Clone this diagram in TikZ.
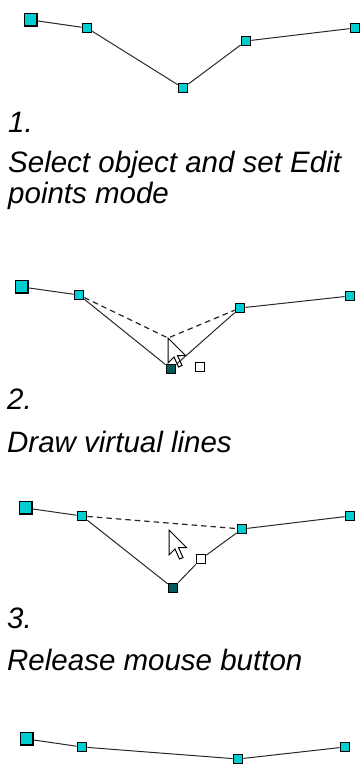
\documentclass[tikz,border=0pt]{standalone}
\usepackage{fontspec}
\setmainfont{Liberation Sans}
\usetikzlibrary{positioning}
\definecolor{handleCyan}{RGB}{0,206,209}
\definecolor{handleDark}{RGB}{0,92,92}
\definecolor{lineGray}{RGB}{40,40,40}

\begin{document}
\begin{tikzpicture}[
    x=1pt, y=-1pt,
    font=\fontsize{29.5}{31}\selectfont\itshape,
    handle/.style={draw=black, line width=1.3pt, fill=handleCyan, inner sep=0pt, minimum size=9.5pt,
      path picture={\draw[black, line width=2pt] (path picture bounding box.south west)
        -- (path picture bounding box.south east) -- (path picture bounding box.north east);}},
    starthandle/.style={handle, minimum size=12.5pt},
    selhandle/.style={handle, fill=handleDark},
    hollow/.style={draw=black, line width=1.1pt, fill=white, inner sep=0pt, minimum size=9.5pt},
    segment/.style={draw=lineGray, line width=1pt},
    virtual/.style={segment, draw=black!85, line width=1.2pt, dash pattern=on 5.5pt off 4pt},
    caption/.style={anchor=base west, inner sep=0pt},
    mousearrow/.pic={\draw[fill=white, line width=1pt, line join=miter]
      (0,0) -- (0,25) -- (6,19) -- (10.5,29) -- (14,27.5) -- (9.5,17.5) -- (17.5,17.5) -- cycle;}
  ]
    \useasboundingbox (0,0) rectangle (361,765);

    % step 1
    \node[starthandle] (a1) at (31,20) {};
    \node[handle] (b1) at (87,28) {};
    \node[handle] (c1) at (183,88) {};
    \node[handle] (d1) at (246,41) {};
    \node[handle] (e1) at (355,28) {};
    \draw[segment] (a1) -- (b1) -- (c1) -- (d1) -- (e1);

    \node[caption] (n1) at (8,132) {1.};
    \node[caption] (t1) at (8,172) {Select object and set Edit};
    \node[caption] (t1b) at (8,203) {points mode};

    % step 2
    \coordinate (v2) at (168,338);
    \pic at (v2) {mousearrow};
    \node[starthandle] (a2) at (22,287) {};
    \node[handle] (b2) at (79,295) {};
    \node[selhandle] (c2) at (171,369) {};
    \node[handle] (d2) at (240,308) {};
    \node[handle] (e2) at (350,296) {};
    \node[hollow] (w2) at (200,367) {};
    \draw[segment] (a2) -- (b2) -- (c2) -- (d2) -- (e2);
    \draw[virtual] (b2) -- (v2) -- (d2);

    \node[caption] (n2) at (7,409) {2.};
    \node[caption] (t2) at (7,452) {Draw virtual lines};

    % step 3
    \coordinate (v3) at (169,530);
    \node[starthandle] (a3) at (26,508) {};
    \node[handle] (b3) at (82,516) {};
    \node[selhandle] (c3) at (173,588) {};
    \node[handle] (d3) at (242,529) {};
    \node[handle] (e3) at (350,516) {};
    \node[hollow] (w3) at (201,559) {};
    \draw[segment] (a3) -- (b3) -- (c3) -- (w3) -- (d3) -- (e3);
    \draw[virtual] (b3) -- (d3);
    \pic at (v3) {mousearrow};

    \node[caption] (n3) at (7,628) {3.};
    \node[caption] (t3) at (7,670) {Release mouse button};

    % step 4
    \node[starthandle] (a4) at (27,739) {};
    \node[handle] (b4) at (82,747) {};
    \node[handle] (c4) at (238,759) {};
    \node[handle] (d4) at (345,747) {};
    \draw[segment] (a4) -- (b4) -- (c4) -- (d4);
\end{tikzpicture}
\end{document}
